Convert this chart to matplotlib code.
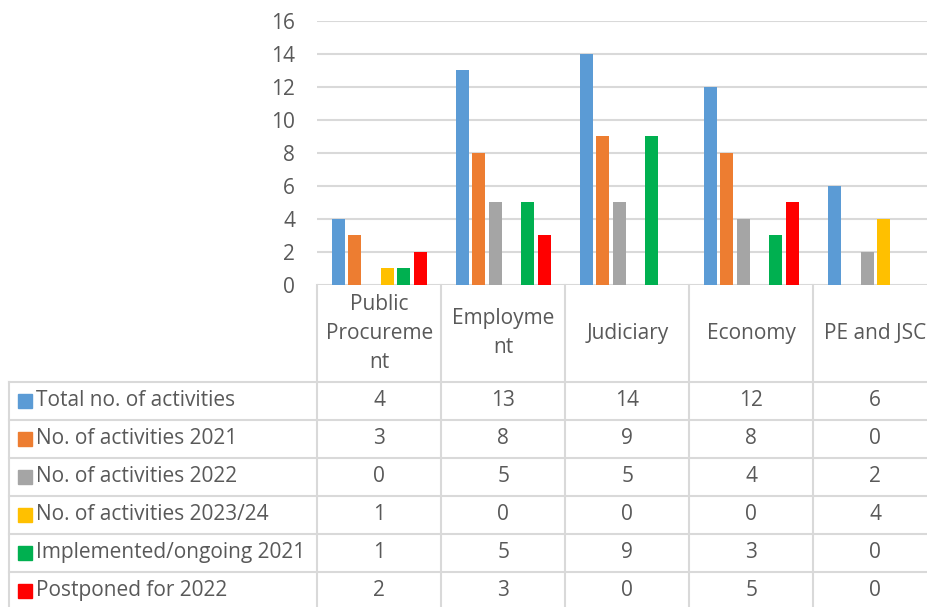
import matplotlib
matplotlib.use("Agg")
import matplotlib.pyplot as plt
import numpy as np

plt.rcParams['font.family'] = ['Open Sans', 'DejaVu Sans']

categories = ["Public\nProcureme\nnt", "Employme\nnt", "Judiciary", "Economy", "PE and JSC"]
series_names = ["Total no. of activities", "No. of activities 2021", "No. of activities 2022",
                "No. of activities 2023/24", "Implemented/ongoing 2021", "Postponed for 2022"]
total = [4, 13, 14, 12, 6]
act_2021 = [3, 8, 9, 8, 0]
act_2022 = [0, 5, 5, 4, 2]
act_2023_24 = [1, 0, 0, 0, 4]
implemented_2021 = [1, 5, 9, 3, 0]
postponed_2022 = [2, 3, 0, 5, 0]
series_values = [total, act_2021, act_2022, act_2023_24, implemented_2021, postponed_2022]
colors = ["#5B9BD5", "#ED7D31", "#A5A5A5", "#FFC000", "#00B050", "#FF0000"]
yticks = [0, 2, 4, 6, 8, 10, 12, 14, 16]

TXT = "#595959"
GRID = "#D9D9D9"
FS = 15

W, H = 928, 607
fig = plt.figure(figsize=(W / 100, H / 100), dpi=100)

# pixel layout
ax_l, ax_r = 317.3, 937.3
ax_top, ax_bot = 20.7, 285.0
ax = fig.add_axes([ax_l / W, 1 - ax_bot / H, (ax_r - ax_l) / W, (ax_bot - ax_top) / H])
ax.set_xlim(-0.5, 4.5)
ax.set_ylim(0, 16)
x = np.arange(len(categories))
step, bw = 0.132, 0.105
for i, (vals, c) in enumerate(zip(series_values, colors)):
    ax.bar(x + (i - 2.5) * step, vals, width=bw, color=c, zorder=3)
ax.set_yticks(yticks)
ax.set_yticklabels([str(t) for t in yticks])
ax.set_xticks([])
ax.tick_params(axis='y', length=0, pad=16, labelsize=FS, labelcolor=TXT)
for s in ax.spines.values():
    s.set_visible(False)
ax.yaxis.grid(True, color=GRID, lw=1.5, zorder=0)
ax.set_axisbelow(True)

# data table
tab_h = H - ax_bot
tax = fig.add_axes([ax_l / W, 0, (ax_r - ax_l) / W, tab_h / H])
tax.set_xlim(-0.5, 4.5)
tax.set_ylim(tab_h, 0)
tax.axis('off')
px = 124.0  # pixels per category
label_left = -0.5 - (ax_l - 9.3) / px
header_h = 96.7
row_h = 38.0
nrows = len(series_names)
row_lines = [header_h + row_h * k for k in range(nrows + 1)]
for yl in row_lines[:-1]:
    tax.plot([label_left, 4.6], [yl, yl], color=GRID, lw=1.5, clip_on=False)
for k in range(len(categories)):
    tax.plot([k - 0.5, k - 0.5], [0, tab_h], color=GRID, lw=1.5, clip_on=False)
tax.plot([label_left, label_left], [header_h, tab_h], color=GRID, lw=1.5, clip_on=False)

for k, cat in enumerate(categories):
    tax.text(k, header_h / 2, cat, ha='center', va='center', fontsize=FS, color=TXT,
             linespacing=1.5, multialignment='center', clip_on=False)

sq_x = -0.5 - (ax_l - 25) / px
lab_x = -0.5 - (ax_l - 36) / px
for r, (name, vals, c) in enumerate(zip(series_names, series_values, colors)):
    yc = header_h + row_h * r + row_h / 2
    tax.plot([sq_x], [yc], marker='s', ms=9.5, color=c, mec=c, clip_on=False)
    tax.text(lab_x, yc, name, ha='left', va='center', fontsize=FS, color=TXT, clip_on=False)
    for k, v in enumerate(vals):
        tax.text(k, yc, str(v), ha='center', va='center', fontsize=FS, color=TXT, clip_on=False)

fig.savefig("out.png", dpi=100)
